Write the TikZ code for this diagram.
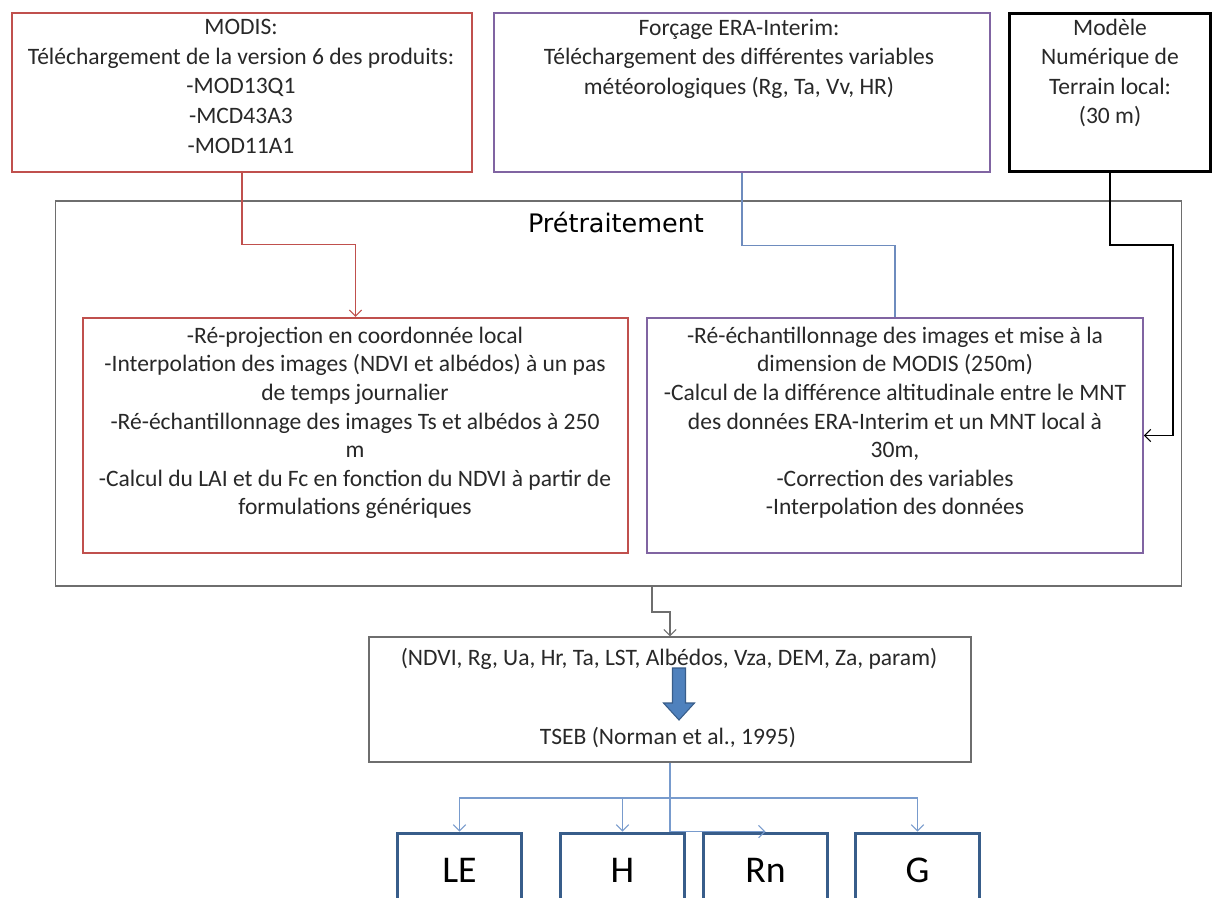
\documentclass[tikz,border=0pt]{standalone}
\usepackage{fontspec}
\setmainfont{Carlito}
\newfontfamily\titlefont{DejaVu Sans}
\usepackage{tikz}
\usetikzlibrary{arrows.meta}
\definecolor{modisred}{RGB}{192,80,77}
\definecolor{eraviolet}{RGB}{128,100,162}
\definecolor{framegray}{RGB}{110,110,110}
\definecolor{linkblue}{RGB}{110,140,190}
\definecolor{fluxlink}{RGB}{120,155,205}
\definecolor{fluxblue}{RGB}{56,93,138}
\definecolor{arrowblue}{RGB}{79,129,189}
\definecolor{inkgray}{RGB}{40,40,40}

\begin{document}
\begin{tikzpicture}[
      x=0.02cm, y=-0.02cm,
      font=\fontsize{13.4}{17}\selectfont,
      every node/.style={text=inkgray},
      src/.style={draw, inner sep=0pt, minimum height=3.18cm},
      txt/.style={align=center, inner sep=0pt, anchor=north,
        execute at begin node=\strut, execute at end node=\strut},
      proc/.style={draw, inner sep=0pt, minimum height=4.7cm},
      proctxt/.style={txt, font=\fontsize{13.4}{16.3}\selectfont},
      flux/.style={draw=fluxblue, line width=1.7pt, inner sep=0pt,
        minimum width=2.48cm, minimum height=1.48cm, text=black,
        font=\fontsize{21.5}{24}\selectfont},
      arr/.style={-{Straight Barb[length=3.5pt,width=7pt]}},
      link/.style={line width=0.6pt}
    ]
    \useasboundingbox (0,0) rectangle (1214,897);
    \fill[white] (0,0) rectangle (1214,897);
    \clip (0,0) rectangle (1214,897);

    \node[src, draw=modisred, line width=1.5pt, minimum width=9.2cm]
      (modis) at (242,92.5) {};
    \node[txt] (modistxt) at (241,18.5)
      {MODIS:\\Téléchargement de la version 6 des produits:\\-MOD13Q1\\
       -MCD43A3\\-MOD11A1};
    \node[src, draw=eraviolet, line width=1.2pt, minimum width=9.92cm]
      (era) at (742,92.5) {};
    \node[txt] (eratxt) at (739,18.5)
      {Forçage ERA-Interim:\\Téléchargement des différentes variables\\
       météorologiques (Rg, Ta, Vv, HR)};
    \node[src, draw=black, line width=1.7pt, minimum width=4.02cm]
      (mnt) at (1110,92.5) {};
    \node[txt, font=\fontsize{13.4}{16.6}\selectfont] (mnttxt) at (1110,19)
      {Modèle\\Numérique de\\Terrain local:\\(30 m)};

    \node[draw=framegray, line width=0.9pt, inner sep=0pt,
      minimum width=22.52cm, minimum height=7.7cm] (pretrait) at (618.5,393.5) {};
    \node[font=\titlefont\fontsize{14.5}{17}\selectfont, text=black]
      (pretraittitle) at (616,222) {Prétraitement};

    \node[proc, draw=modisred, line width=1.4pt, minimum width=10.9cm]
      (corrmodis) at (355.5,435.5) {};
    \node[proctxt] (corrmodistxt) at (355,326.4)
      {-Ré-projection en coordonnée local\\
       -Interpolation des images (NDVI et albédos) à un pas\\
       de temps journalier\\
       -Ré-échantillonnage des images Ts et albédos à 250\\
       m\\
       -Calcul du LAI et du Fc en fonction du NDVI à partir de\\
       formulations génériques};
    \node[proc, draw=eraviolet, line width=1.1pt, minimum width=9.92cm]
      (correra) at (895,435.5) {};
    \node[proctxt] (correratxt) at (895,326.4)
      {-Ré-échantillonnage des images et mise à la\\
       dimension de MODIS (250m)\\
       -Calcul de la différence altitudinale entre le MNT\\
       des données ERA-Interim et un MNT local à\\
       30m,\\
       -Correction des variables\\
       -Interpolation des données};

    \node[draw=framegray, line width=0.8pt, inner sep=0pt,
      minimum width=12.04cm, minimum height=2.5cm] (tseb) at (670,699.5) {};
    \node[anchor=base] (tsebin) at (669,665.5)
      {(NDVI, Rg, Ua, Hr, Ta, LST, Albédos, Vza, DEM, Za, param)};
    \node[anchor=base] (tsebname) at (668,744) {TSEB (Norman et al., 1995)};
    \filldraw[fill=arrowblue, draw=fluxblue, line width=0.6pt]
      (672.5,668) -- (685.5,668) -- (685.5,703) -- (694.5,703) -- (679,720)
      -- (663.5,703) -- (672.5,703) -- cycle;

    \node[flux] (le) at (459.5,870) {LE};
    \node[flux] (h) at (622.5,870) {H};
    \node[flux] (rn) at (765.5,870) {Rn};
    \node[flux] (g) at (917.5,870) {G};

    \draw[link, modisred, arr] (modis.south) -- ++(0,71) -| (corrmodis.north);
    \draw[link, linkblue] (era.south) -- ++(0,72) -| (correra.north);
    \coordinate (mntbend) at (1173,245);
    \draw[link, black, arr] (mnt.south) |- (mntbend) |- (correra.east);
    \coordinate (tsebjog) at (652,612);
    \draw[link, framegray, arr] (tsebjog |- pretrait.south) -- (tsebjog)
      -| (tseb.north);
    \coordinate (split) at (670,798);
    \draw[link, fluxlink] (tseb.south) -- (split);
    \draw[link, fluxlink, arr] (split) -| (le.north);
    \draw[link, fluxlink, arr] (split) -| (h.north);
    \draw[link, fluxlink, arr] (split) -| (g.north);
    \draw[link, fluxlink, arr] (split) |- (rn.north);
  \end{tikzpicture}
\end{document}
